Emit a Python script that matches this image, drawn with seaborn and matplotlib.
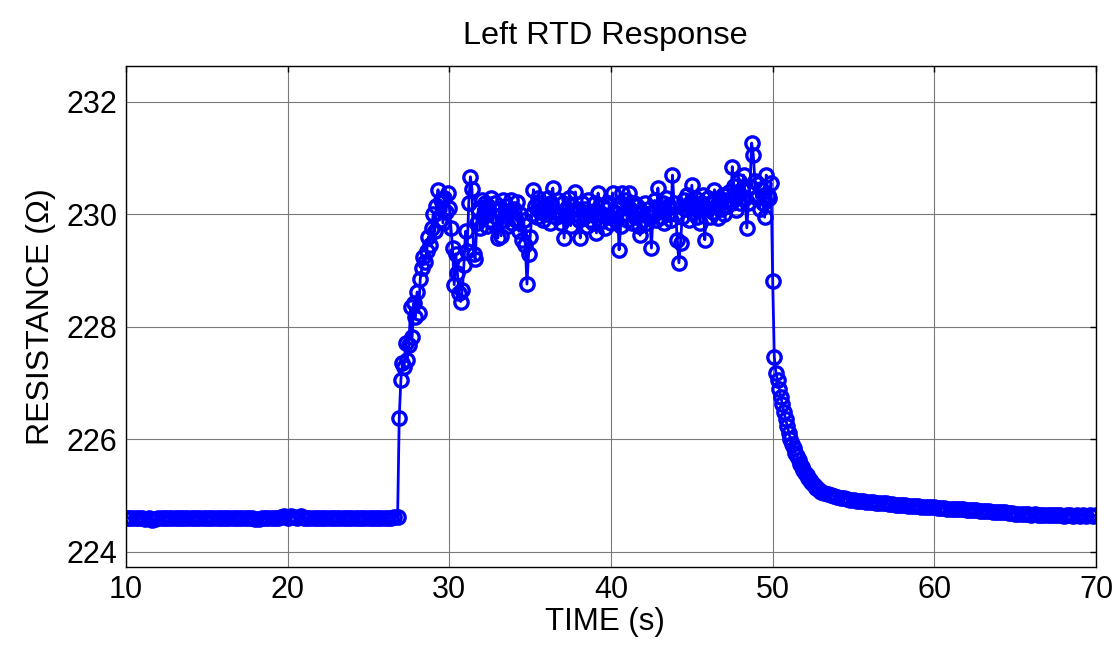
import numpy as np
import pandas as pd
import seaborn as sns
import matplotlib
matplotlib.use("Agg")
import matplotlib.pyplot as plt

# ---- data (resistance readings, Ohm) ----
# Segment 1: baseline, sampled every 0.2 s starting at 10.0 s
base_start, base_step = 10.0, 0.2
base_vals = [
    224.61, 224.60, 224.60, 224.61, 224.60, 224.60, 224.59, 224.60, 224.57, 224.58,
    224.60, 224.60, 224.61, 224.60, 224.60, 224.60, 224.61, 224.60, 224.60, 224.60,
    224.60, 224.61, 224.60, 224.60, 224.60, 224.60, 224.61, 224.60, 224.60, 224.60,
    224.60, 224.60, 224.61, 224.60, 224.60, 224.60, 224.60, 224.61, 224.60, 224.60,
    224.59, 224.58, 224.60, 224.60, 224.61, 224.60, 224.60, 224.60, 224.62, 224.63,
    224.60, 224.63, 224.62, 224.60, 224.63, 224.61, 224.60, 224.60, 224.61, 224.60,
    224.60, 224.60, 224.61, 224.60, 224.60, 224.60, 224.60, 224.61, 224.60, 224.60,
    224.60, 224.61, 224.60, 224.60, 224.60, 224.60, 224.61, 224.60, 224.60, 224.60,
    224.60, 224.61, 224.60, 224.62,
]

# Segment 2: heating step and plateau, sampled every 0.1 s starting at 26.8 s
heat_start, heat_step = 26.8, 0.1
heat_vals = [
    224.62, 226.38, 227.05, 227.35, 227.28, 227.72, 227.42, 227.68, 228.35, 227.82,
    228.42, 228.18, 228.62, 228.25, 228.85, 229.05, 229.25, 229.15, 229.35, 229.60,
    229.45, 229.75, 230.00, 229.70, 230.15, 230.44, 229.90, 230.25, 229.85, 230.30,
    230.05, 230.38, 230.12, 229.75, 229.40, 228.75, 229.30, 228.95, 228.60, 228.45,
    228.65, 229.10, 229.70, 229.35, 230.20, 230.67, 230.45, 229.30, 229.20, 229.85,
    230.10, 229.75, 230.25, 229.95, 230.20, 229.80, 230.15, 229.90, 230.30, 229.85,
    230.20, 229.95, 229.58, 230.10, 229.62, 230.25, 229.90, 230.15, 229.80, 230.05,
    230.26, 229.85, 230.10, 229.90, 230.22, 229.70, 230.00, 229.55, 229.90, 229.45,
    228.76, 229.30, 229.60, 230.00, 230.44, 230.15, 229.95, 230.30, 230.05, 230.20,
    229.90, 230.15, 230.00, 230.30, 229.85, 230.20, 230.47, 230.05, 229.95, 230.25,
    230.00, 229.85, 230.20, 229.58, 230.10, 229.95, 230.30, 229.80, 230.15, 230.00,
    230.40, 230.10, 229.90, 229.58, 230.20, 229.95, 230.10, 229.80, 230.25, 229.90,
    230.05, 229.85, 230.20, 229.67, 230.38, 230.00, 229.90, 230.15, 229.75, 230.10,
    229.95, 230.20, 229.85, 230.38, 230.05, 229.90, 230.10, 229.37, 229.80, 230.38,
    230.00, 230.25, 229.90, 230.38, 230.10, 229.85, 230.20, 229.95, 230.15, 229.80,
    229.63, 230.05, 229.90, 230.20, 229.85, 230.10, 229.95, 229.40, 230.05, 230.25,
    229.90, 230.47, 230.10, 229.95, 230.20, 229.85, 230.30, 230.00, 230.15, 229.90,
    230.70, 230.20, 230.00, 229.55, 229.14, 229.50, 229.95, 230.25, 230.10, 230.35,
    229.90, 230.20, 230.52, 230.05, 230.30, 229.95, 230.15, 229.85, 230.20, 230.35,
    229.55, 230.10, 230.30, 229.95, 230.20, 230.05, 230.44, 230.15, 229.94, 230.30,
    230.10, 230.35, 230.00, 230.25, 230.15, 230.40, 230.20, 230.85, 230.50, 230.08,
    230.35, 230.60, 230.20, 230.45, 230.70, 230.30, 229.76, 230.20, 230.50, 231.27,
    231.06, 230.60, 230.30, 230.55, 230.10, 230.45, 230.20, 229.95, 230.70, 230.35,
    230.30, 230.56, 228.82, 227.47,
]

# Segment 3: fast cool-down, sampled every 0.1 s starting at 50.2 s
cool_start, cool_step = 50.2, 0.1
cool_vals = [
    227.18, 227.05, 226.90, 226.76, 226.62, 226.48, 226.36, 226.24, 226.12, 226.00,
    225.92, 225.84, 225.76, 225.70, 225.64, 225.57, 225.51, 225.46, 225.41, 225.36,
    225.32, 225.28, 225.24, 225.20, 225.17, 225.14, 225.11, 225.09, 225.07,
]

# Segment 4: slow tail, sampled every 0.2 s starting at 53.2 s
tail_start, tail_step = 53.2, 0.2
tail_vals = [
    225.05, 225.03, 225.01, 224.99, 224.98, 224.96, 224.95, 224.94, 224.93, 224.92,
    224.91, 224.90, 224.90, 224.89, 224.88, 224.88, 224.87, 224.87, 224.86, 224.86,
    224.85, 224.85, 224.84, 224.84, 224.83, 224.83, 224.82, 224.82, 224.81, 224.81,
    224.80, 224.80, 224.79, 224.80, 224.79, 224.78, 224.78, 224.78, 224.77, 224.77,
    224.77, 224.76, 224.76, 224.76, 224.75, 224.75, 224.74, 224.74, 224.73, 224.73,
    224.72, 224.72, 224.71, 224.71, 224.70, 224.70, 224.70, 224.69, 224.69, 224.68,
    224.68, 224.68, 224.67, 224.67, 224.66, 224.67, 224.66, 224.66, 224.65, 224.66,
    224.65, 224.65, 224.66, 224.65, 224.64, 224.65, 224.65, 224.64, 224.65, 224.64,
    224.65, 224.64, 224.65, 224.64, 224.65,
]

x_ticks = [10, 20, 30, 40, 50, 60, 70]
y_ticks = [224, 226, 228, 230, 232]

segments = [
    (base_start, base_step, base_vals),
    (heat_start, heat_step, heat_vals),
    (cool_start, cool_step, cool_vals),
    (tail_start, tail_step, tail_vals),
]
times, res = [], []
for start, step, vals in segments:
    times.extend(start + step * np.arange(len(vals)))
    res.extend(vals)
df = pd.DataFrame({"time": times, "resistance": res})

# ---- style ----
sns.set_style("white")
plt.rcParams["font.family"] = ["Liberation Sans", "DejaVu Sans"]
plt.rcParams["text.color"] = "black"
plt.rcParams["axes.labelcolor"] = "black"

fig = plt.figure(figsize=(11.2, 6.56), dpi=100)
ax = fig.add_axes([0.1125, 0.1357, 0.8661, 0.7637])

sns.lineplot(
    data=df, x="time", y="resistance", ax=ax, sort=False, estimator=None,
    color="#0000FF", linewidth=2.0, marker="o", markersize=9.6,
    markerfacecolor="none", markeredgecolor="#0000FF", markeredgewidth=2.4,
)

ax.set_xlim(10, 70)
ax.set_ylim(223.73, 232.64)
ax.set_xticks(x_ticks)
ax.set_yticks(y_ticks)
ax.set_xticklabels([str(v) for v in x_ticks])
ax.set_yticklabels([str(v) for v in y_ticks])

ax.set_axisbelow(True)
ax.grid(True, color="#7a7a7a", linewidth=0.8, linestyle="-")
for s in ax.spines.values():
    s.set_visible(True)
    s.set_color("black")
    s.set_linewidth(1.0)
ax.tick_params(axis="both", direction="in", length=4, width=1,
               top=True, right=True, labelsize=22, pad=6, colors="black")

ax.set_xlabel("TIME (s)", fontsize=22.5, labelpad=1, color="black", x=0.494)
ax.set_ylabel("RESISTANCE (Ω)", fontsize=23, labelpad=8, color="black")
ax.set_title("Left RTD Response", fontsize=23.4, pad=16, color="black", x=0.494)

fig.savefig("out.png", dpi=100)
